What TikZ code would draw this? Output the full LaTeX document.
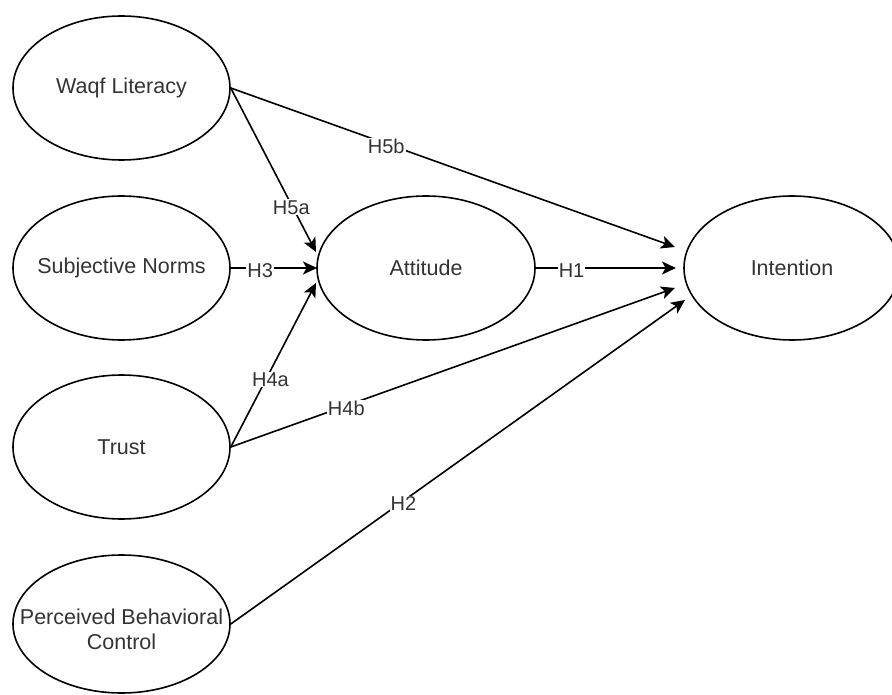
\documentclass[tikz,border=0pt]{standalone}
\usepackage{fontspec}
\setmainfont{Liberation Sans}
\usetikzlibrary{shapes.geometric,arrows.meta}
\newcommand{\zw}[1]{\makebox[0pt][c]{#1}}
\begin{document}
\begin{tikzpicture}[x=1pt,y=-1pt,
  construct/.style={ellipse, draw=black, line width=1.6pt, minimum width=217pt, minimum height=144pt, inner sep=0pt, align=center, text=black!80, font=\fontsize{21.5}{25}\selectfont},
  link/.style={draw=black, line width=1.6pt, -{Stealth[length=14pt,width=13pt,inset=3.5pt]}},
  hlabel/.style={fill=white, inner sep=1pt, text=black!80, font=\fontsize{20}{24}\selectfont, yshift=-3pt}
]
\useasboundingbox (0,0) rectangle (892,695);
\clip (0,0) rectangle (892,695);
\fill[white] (0,0) rectangle (892,695);

\node[construct] (wl) at (121.5,88) {\zw{Waqf Literacy}};
\node[construct] (sn) at (121.5,268) {\zw{Subjective Norms}};
\node[construct] (tr) at (121.5,447) {\zw{Trust}};
\node[construct, minimum height=138pt] (pbc) at (121.5,624) {\raisebox{-8pt}[\height][\depth]{\zw{\begin{tabular}{@{}c@{}}Perceived Behavioral\\Control\end{tabular}}}};
\node[construct, minimum width=218pt] (att) at (426,268) {\zw{Attitude}};
\node[construct, minimum width=216pt] (int) at (792,268) {\zw{Intention}};

\coordinate (att-a) at (316,252);
\coordinate (att-b) at (317,268);
\coordinate (att-c) at (316,283);
\coordinate (int-a) at (675,247);
\coordinate (int-b) at (676,268);
\coordinate (int-c) at (675,288);
\coordinate (int-d) at (685,300);

\draw[link] (wl.east) -- node[hlabel,pos=0.71]{H5a} (att-a);
\draw[link] (wl.east) -- node[hlabel,pos=0.35]{H5b} (int-a);
\draw[link] (sn.east) -- node[hlabel,pos=0.34]{H3} (att-b);
\draw[link] (tr.east) -- node[hlabel,pos=0.43,xshift=3pt]{H4a} (att-c);
\draw[link] (tr.east) -- node[hlabel,pos=0.26]{H4b} (int-c);
\draw[link] (att.east) -- node[hlabel,pos=0.255]{H1} (int-b);
\draw[link] (pbc.east) -- node[hlabel,pos=0.38]{H2} (int-d);
\end{tikzpicture}
\end{document}
